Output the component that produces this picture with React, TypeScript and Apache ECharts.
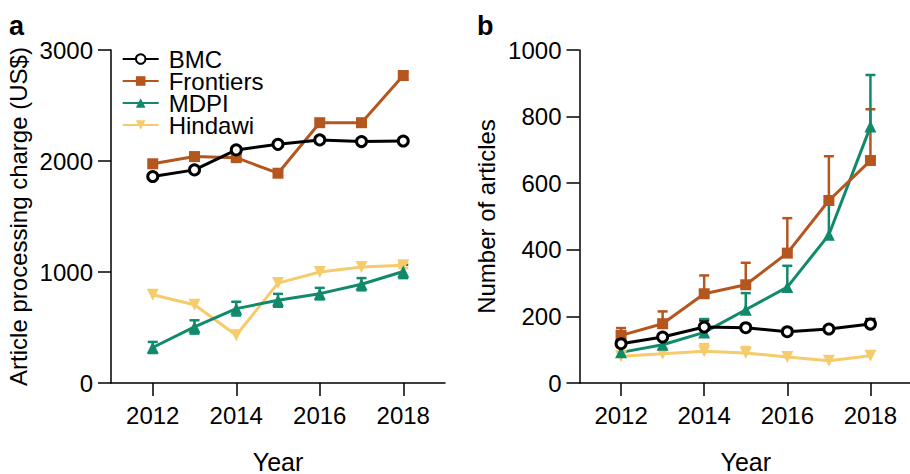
import React, { useEffect, useRef } from "react";
import * as echarts from "echarts";

const years = [2012, 2013, 2014, 2015, 2016, 2017, 2018];
const tickYears = [2012, 2014, 2016, 2018];
const seriesNames = ["BMC", "Frontiers", "MDPI", "Hindawi"];

// Panel a: article processing charge (US$)
const apcBMC = [1860, 1920, 2100, 2150, 2190, 2175, 2180];
const apcBMCErr = [0, 0, 0, 0, 0, 0, 0];
const apcFrontiers = [1975, 2040, 2030, 1890, 2345, 2345, 2770];
const apcFrontiersErr = [0, 0, 0, 0, 0, 0, 35];
const apcMDPI = [320, 505, 670, 745, 805, 890, 1005];
const apcMDPIErr = [50, 60, 62, 58, 52, 55, 60];
const apcHindawi = [795, 705, 430, 900, 1000, 1045, 1060];
const apcHindawiErr = [0, 0, 0, 0, 0, 0, 25];

// Panel b: number of articles
const artBMC = [118, 138, 168, 166, 154, 162, 177];
const artBMCErr = [0, 0, 20, 0, 0, 0, 15];
const artFrontiers = [143, 178, 268, 295, 390, 548, 668];
const artFrontiersErr = [22, 37, 55, 66, 105, 133, 154];
const artMDPI = [92, 115, 152, 220, 288, 445, 770];
const artMDPIErr = [0, 0, 40, 50, 64, 104, 155];
const artHindawi = [80, 88, 95, 90, 78, 67, 82];
const artHindawiErr = [0, 0, 22, 18, 0, 0, 0];

const colors: Record<string, string> = {
  BMC: "#000000",
  Frontiers: "#B5561F",
  MDPI: "#118A6C",
  Hindawi: "#F6CB6C",
};

const FONT = "'Liberation Sans', Arial, Helvetica, sans-serif";

function App() {
  const ref = useRef<HTMLDivElement>(null);

  useEffect(() => {
    if (!ref.current) return;
    const chart = echarts.init(ref.current, null, { renderer: "svg" });

    const makeErr = (vals: number[], errs: number[], symmetric: boolean) =>
      years
        .map((y, i) => [y, symmetric ? vals[i] - errs[i] : vals[i], vals[i] + errs[i], errs[i]])
        .filter((d) => d[3] > 0);

    const errSeries = (
      name: string,
      vals: number[],
      errs: number[],
      symmetric: boolean,
      axis: number
    ) => ({
      type: "custom",
      xAxisIndex: axis,
      yAxisIndex: axis,
      z: 1,
      silent: true,
      data: makeErr(vals, errs, symmetric),
      encode: { x: 0, y: [1, 2] },
      renderItem: (params: any, api: any) => {
        const x = api.value(0);
        const lo = api.coord([x, api.value(1)]);
        const hi = api.coord([x, api.value(2)]);
        const hw = 5;
        const style = { stroke: colors[name], lineWidth: 2.5, fill: "none" };
        const children: any[] = [
          { type: "line", shape: { x1: lo[0], y1: lo[1], x2: hi[0], y2: hi[1] }, style },
          { type: "line", shape: { x1: hi[0] - hw, y1: hi[1], x2: hi[0] + hw, y2: hi[1] }, style },
        ];
        if (symmetric) {
          children.push({
            type: "line",
            shape: { x1: lo[0] - hw, y1: lo[1], x2: lo[0] + hw, y2: lo[1] },
            style,
          });
        }
        return { type: "group", children };
      },
    });

    const symbolFor = (name: string) => {
      if (name === "BMC")
        return {
          symbol: "circle",
          symbolSize: 10,
          itemStyle: { color: "#ffffff", borderColor: "#000000", borderWidth: 3 },
        };
      if (name === "Frontiers")
        return { symbol: "rect", symbolSize: 11, itemStyle: { color: colors[name] } };
      if (name === "MDPI")
        return { symbol: "triangle", symbolSize: 12, itemStyle: { color: colors[name] } };
      return {
        symbol: "triangle",
        symbolSize: 12,
        symbolRotate: 180,
        itemStyle: { color: colors[name] },
      };
    };

    const lineSeries = (name: string, vals: number[], axis: number) => ({
      type: "line",
      name,
      xAxisIndex: axis,
      yAxisIndex: axis,
      z: 2,
      data: years.map((y, i) => [y, vals[i]]),
      lineStyle: { color: colors[name], width: 3 },
      showAllSymbol: true,
      ...symbolFor(name),
    });

    const xAxisCommon = {
      type: "value",
      min: 2011,
      max: 2019,
      interval: 1,
      axisLine: { lineStyle: { color: "#000", width: 1.5 } },
      axisTick: {
        customValues: tickYears,
        length: 13,
        lineStyle: { color: "#000", width: 1.5 },
      },
      axisLabel: {
        customValues: tickYears,
        fontSize: 24,
        margin: 20,
        color: "#000",
        fontFamily: FONT,
        formatter: (v: number) => String(v),
      },
      splitLine: { show: false },
      name: "Year",
      nameLocation: "middle",
      nameGap: 66,
      nameTextStyle: { fontSize: 25, color: "#000", fontFamily: FONT },
    };

    const yAxisCommon = (max: number, interval: number, name: string) => ({
      type: "value",
      min: 0,
      max,
      interval,
      axisLine: { show: true, lineStyle: { color: "#000", width: 1.5 } },
      axisTick: { show: true, length: 13, lineStyle: { color: "#000", width: 1.5 } },
      axisLabel: {
        fontSize: 24,
        margin: 18,
        color: "#000",
        fontFamily: FONT,
        formatter: (v: number) => String(v),
      },
      splitLine: { show: false },
      name,
      nameLocation: "middle",
      nameRotate: 90,
      nameGap: 81,
      nameTextStyle: { fontSize: 24, color: "#000", fontFamily: FONT },
    });

    const option: any = {
      animation: false,
      backgroundColor: "#ffffff",
      textStyle: { fontFamily: FONT },
      grid: [
        { left: 111, top: 50, width: 334, height: 333, outerBoundsMode: "none", containLabel: false },
        { left: 579.5, top: 50, width: 332.5, height: 333, outerBoundsMode: "none", containLabel: false },
      ],
      xAxis: [
        { ...xAxisCommon, gridIndex: 0 },
        { ...xAxisCommon, gridIndex: 1 },
      ],
      yAxis: [
        { ...yAxisCommon(3000, 1000, "Article processing charge (US$)"), gridIndex: 0 },
        { ...yAxisCommon(1000, 200, "Number of articles"), gridIndex: 1 },
      ],
      legend: {
        data: seriesNames,
        orient: "vertical",
        left: 121.7,
        top: 47,
        padding: 0,
        itemGap: -2,
        itemWidth: 36,
        itemHeight: 12,
        selectedMode: false,
        textStyle: {
          fontSize: 24,
          color: "#000",
          fontFamily: FONT,
          padding: [0, 0, 0, 5],
        },
      },
      graphic: [
        {
          type: "text",
          left: 9,
          top: 12,
          style: { text: "a", fontSize: 27, fontWeight: "bold", fill: "#000", fontFamily: FONT },
        },
        {
          type: "text",
          left: 477,
          top: 12,
          style: { text: "b", fontSize: 27, fontWeight: "bold", fill: "#000", fontFamily: FONT },
        },
      ],
      series: [
        errSeries("BMC", apcBMC, apcBMCErr, true, 0),
        errSeries("Frontiers", apcFrontiers, apcFrontiersErr, true, 0),
        errSeries("MDPI", apcMDPI, apcMDPIErr, true, 0),
        errSeries("Hindawi", apcHindawi, apcHindawiErr, true, 0),
        errSeries("BMC", artBMC, artBMCErr, false, 1),
        errSeries("Frontiers", artFrontiers, artFrontiersErr, false, 1),
        errSeries("MDPI", artMDPI, artMDPIErr, false, 1),
        errSeries("Hindawi", artHindawi, artHindawiErr, false, 1),
        lineSeries("Hindawi", apcHindawi, 0),
        lineSeries("MDPI", apcMDPI, 0),
        lineSeries("Frontiers", apcFrontiers, 0),
        lineSeries("BMC", apcBMC, 0),
        lineSeries("Hindawi", artHindawi, 1),
        lineSeries("MDPI", artMDPI, 1),
        lineSeries("Frontiers", artFrontiers, 1),
        lineSeries("BMC", artBMC, 1),
      ],
    };

    chart.setOption(option);
    return () => chart.dispose();
  }, []);

  return (
    <div
      ref={ref}
      style={{ position: "fixed", left: 0, top: 0, width: 910, height: 474, background: "#fff" }}
    />
  );
}

export default App;
